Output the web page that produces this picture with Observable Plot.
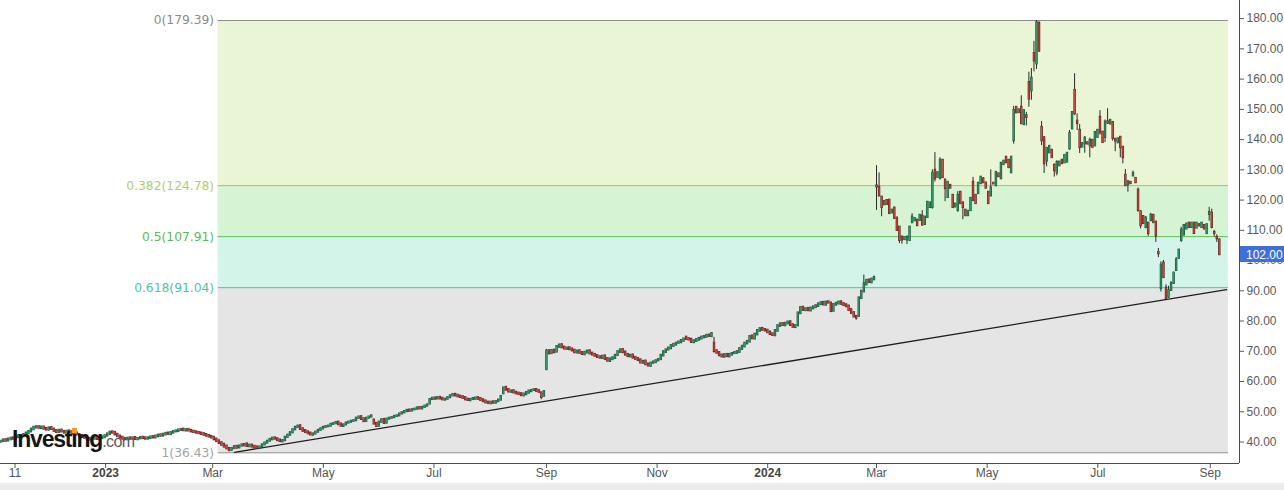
<!DOCTYPE html>
<html><head><meta charset="utf-8">
<script src="https://cdn.jsdelivr.net/npm/d3@7"></script>
<script src="https://cdn.jsdelivr.net/npm/@observablehq/plot@0.6"></script>
<style>
html,body{margin:0;padding:0;background:#fff;}
#wrap{position:relative;width:1284px;height:490px;overflow:hidden;font-family:"Liberation Sans",Arial,sans-serif;}
#nav{position:absolute;left:0;top:483px;width:1284px;height:7px;background:#ebebeb;}
#logo{position:absolute;left:12px;top:426px;line-height:23px;white-space:nowrap;}
#logo .w{font:bold 23px "Liberation Sans",Arial,sans-serif;letter-spacing:-1.2px;color:#151515;}
#logo .c{font:16px "Liberation Sans",Arial,sans-serif;letter-spacing:-0.6px;color:#5a5a5a;}
#logo .i{position:relative;}
#logo .i::after{content:"";position:absolute;left:1px;top:2px;width:5px;height:5px;background:#f39c26;}
</style></head>
<body><div id="wrap"><div id="chart"></div><div id="nav"></div>
<div id="logo"><span class="w">Invest<span class="i">i</span>ng</span><span class="c">.com</span></div></div>
<script>
// ---------- data ----------
const firstSession = "2022-11-04";     // first candle
const sessionSpacingDays = 1.4;        // even spacing of sessions on the time axis
const lastPrice = 102.00;

const opens = [
 // Nov 2022 - Mar 2023
 40.0,40.2,40.7,40.4,40.8, 41.3,41.0,41.5,42.1,41.8,42.4,42.8, 43.4,44.1,44.7,45.0,44.5,
 44.9,44.4,44.0,44.7, 44.2,43.7,43.2,43.9, 43.4,43.0,43.6,43.3,42.5,42.9,
 42.4,42.1,41.7,41.4,41.1,40.7,41.0,41.4,40.8,41.2,41.5, 42.0,42.5,43.3,43.1,42.5,41.9,
 41.5,41.1,40.8,41.3,41.0,41.4,40.8,41.1,41.5,41.3,41.0,
 41.2,41.7,41.4,41.8,42.3,42.0,42.4,42.9,42.5,43.0, 43.4,43.5,43.9,44.2,43.7,44.1,43.8,
 43.5,43.3,43.1,42.9,42.7,42.4,42.1,41.8, 41.5,40.9,40.3,39.7,39.2,38.6,
 // Mar 2023 - Sep 2023
 37.8,37.3,37.9, 38.5,38.1,38.7,39.1, 39.3,38.5,38.9,38.5, 38.3,38.0, 38.4,39.1,39.7,40.3,
 40.8,41.3,41.0,40.6, 40.1,40.5,41.6,42.3, 43.1,44.1,44.9,45.3,44.3, 43.7,43.3,42.9,42.3,
 42.7,43.3,43.9,44.4,44.9,45.1, 45.3,45.9,46.1,46.5,45.9,45.2, 45.7,46.3,46.6,46.9,47.1,47.9,
 48.3,47.6,46.9,47.9,48.3, 47.2,46.1,45.3,46.6,47.4, 46.3,47.6,47.9,48.1, 48.5,48.7,49.3,49.7,
 50.1,50.5,50.3, 50.7,50.9,51.3,51.0,51.5,51.9, 52.6,54.1,54.5,54.3,54.7, 54.4,53.9,54.2,
 54.7,55.3,55.7,55.4,55.1, 54.9,54.6,54.1,53.7,54.1, 54.2,54.6,54.3,53.9,
 53.5,53.1,52.7,53.2,52.9,53.4, 53.9,56.0,58.0,57.3, 56.5,56.9,56.4,56.1, 55.9,55.3,55.7,
 56.2,56.7,57.1,57.3, 56.9,56.2,55.2,
 // Sep 2023 - Mar 2024
 64.0, 70.1,69.3,70.3, 69.8,71.4, 72.1,71.3,70.7,71.1, 70.7,70.3,69.5,70.1, 69.5,68.9,69.5,70.1,
 69.3,68.9,68.5,68.1, 67.7,68.4,67.5, 66.7,67.3,67.7, 68.7,69.7,70.5, 69.7,68.9,68.2,68.7,67.9,
 67.5,67.1,66.1,66.7, 65.7,65.1, 66.1,66.3,66.9, 67.3,68.5,69.7,70.5, 70.9,71.7,72.1,72.7,
 72.9,73.4,74.6,74.1, 73.9,72.9,73.3,73.7, 74.1,74.5,74.7,75.3,74.9,
 72.6, 70.1,69.5,68.7,68.1,68.9, 68.2,68.8,69.3,69.4, 69.7,70.7,71.5,72.5, 73.1,75.0,74.1,
 75.5,76.7,77.5,77.1, 76.9,76.3,75.7, 75.2,76.7,78.3, 79.1,78.5,79.1, 79.7,78.7,77.9,
 78.5,82.5, 84.5,83.5,84.1,83.4,84.1, 84.5,84.9,85.5,86.1,85.3,86.3, 85.9,
 83.3,85.3,85.7,86.3,85.7, 85.3,84.9,83.7,82.7, 81.5, 81.6,87.5, 89.7,92.0,93.5, 92.7,93.7,
 // Mar 2024 - Sep 2024
 124.6,124.0,120.9,118.5,119.8,119.9,115.8,117.3,114.0,111.0,
 107.7,107.0,106.9,106.7,112.6,113.2,113.3,113.3,114.6,112.0,
 114.3,117.6,117.6,129.8,127.6,127.1,133.1,126.5,120.9,124.8,
 121.5,117.8,116.6,122.5,118.9,116.6,114.9,116.6,125.8,121.5,
 122.2,125.5,127.0,125.6,122.5,121.5,125.5,124.8,128.6,127.1,
 131.8,134.1,133.1,129.1,139.7,150.6,149.0,150.6,145.0,147.8,
 158.8,156.2,168.4,165.1,178.3,144.0,140.5,133.0,135.7,136.4,
 131.4,129.1,131.4,133.1,132.4,132.6,137.0,143.6,156.2,146.0,
 143.0,137.6,138.7,138.9,138.0,139.7,138.0,140.8,147.3,142.4,
 140.8,145.8,145.2,145.6,139.9,139.0,140.7,137.4,128.1,125.2,
 125.8,128.1,127.1,123.2,116.0,114.5,111.0,112.3,113.3,114.9,
 112.6,102.6,90.8,99.1,90.8,88.0,90.2,92.5,96.8,100.8,
 106.7,108.5,110.5,112.3,111.0,112.3,110.8,111.8,111.0,111.5,
 109.0,115.4,115.6,109.2,107.6,106.7
];

const closes = [
 // Nov 2022 - Mar 2023
 40.2,40.6,40.3,40.9,41.2, 41.0,41.6,42.0,41.8,42.4,42.9,43.4, 44.2,44.8,45.0,44.6,44.9,
 44.3,44.0,44.6,44.2, 43.6,43.2,43.8,43.4, 43.0,43.5,43.2,42.6,42.9,42.4,
 42.0,41.6,41.3,41.0,40.7,41.0,41.3,40.9,41.2,41.6,42.0, 42.6,43.2,43.0,42.4,41.8,41.4,
 41.0,40.8,41.2,41.0,41.3,40.9,41.1,41.4,41.2,41.0,41.3,
 41.6,41.4,41.9,42.2,42.0,42.5,42.8,42.6,43.1,43.4, 43.6,43.9,44.1,43.8,44.0,43.7,43.4,
 43.2,43.0,42.8,42.6,42.3,42.0,41.7,41.4, 40.8,40.2,39.6,39.0,38.4,37.8,
 // Mar 2023 - Sep 2023
 37.2,37.8,38.4, 38.0,38.6,39.0,38.8, 38.6,38.9,38.4,38.2, 38.0,38.3, 39.0,39.6,40.2,40.8,
 41.2,41.0,40.5,40.2, 40.4,41.5,42.2,43.0, 44.0,44.8,45.2,44.2,43.6, 43.2,42.8,42.4,42.6,
 43.2,43.8,44.3,44.8,45.0,45.2, 45.8,46.0,46.4,45.8,45.3,45.6, 46.2,46.5,46.8,47.0,47.8,48.2,
 47.5,46.8,47.8,48.2,48.6, 46.0,45.2,46.5,47.3,46.2, 47.5,47.8,48.0,48.4, 48.6,49.2,49.6,50.0,
 50.4,50.2,50.6, 50.8,51.2,51.0,51.4,51.8,52.2, 54.0,54.4,54.2,54.6,54.3, 54.0,54.1,54.6,
 55.2,55.6,55.3,55.0,54.8, 54.5,54.0,53.8,54.0,54.3, 54.5,54.2,53.8,53.4,
 53.0,52.8,53.1,52.9,53.3,53.8, 55.0,57.8,57.2,56.6, 56.8,56.3,56.0,55.8, 55.4,55.8,56.3,
 56.8,57.0,57.2,56.8, 56.5,54.8,56.6,
 // Sep 2023 - Mar 2024
 70.0, 69.2,70.2,69.6, 71.5,72.0, 71.2,70.8,71.0,70.6, 70.2,69.6,70.0,69.4, 69.0,69.6,70.0,69.2,
 68.8,68.4,68.0,67.8, 68.3,67.4,66.8, 67.4,67.8,68.6, 69.8,70.4,69.6, 68.8,68.3,68.6,67.8,67.4,
 67.0,66.2,66.6,65.6, 65.2,66.0, 66.4,66.8,67.2, 68.6,69.8,70.4,71.0, 71.8,72.2,72.6,73.0,
 73.5,74.0,74.0,73.8, 73.0,73.4,73.8,74.2, 74.6,74.8,75.2,75.0,75.8,
 70.0, 69.4,68.6,68.2,68.8,68.3, 68.9,69.2,69.5,69.8, 70.8,71.6,72.6,73.2, 74.8,74.2,75.6,
 76.8,77.4,77.0,76.8, 76.2,75.6,75.3, 76.8,78.4,79.0, 78.6,79.2,79.6, 78.6,78.0,78.4,
 82.6,84.4, 83.6,84.0,83.5,84.2,84.6, 85.0,85.6,86.0,85.4,86.2,86.0, 83.2,
 85.4,85.8,86.2,85.6,85.2, 84.8,83.6,82.6,81.4, 81.0, 87.6,89.8, 92.2,93.4,92.8, 93.8,94.4,
 // Mar 2024 - Sep 2024
 124.4,121.5,117.6,119.5,118.6,115.6,116.6,114.0,110.0,106.7,
 106.9,107.5,107.6,111.0,114.3,113.8,111.6,114.9,111.8,114.3,
 119.2,119.0,128.8,127.1,129.0,133.1,127.5,123.9,125.8,124.0,
 117.6,118.6,121.5,118.9,117.6,114.9,116.2,120.5,119.9,118.9,
 125.5,127.5,125.8,124.0,118.9,123.9,125.4,129.1,127.8,132.1,
 132.8,132.4,130.8,134.1,149.6,148.9,149.8,145.3,149.5,147.4,
 153.5,160.2,166.1,178.6,169.4,139.7,132.1,137.0,137.7,134.1,
 129.8,132.4,132.5,132.1,134.7,135.4,142.0,148.9,148.6,145.4,
 137.4,138.6,140.4,138.6,139.7,137.5,142.3,143.0,142.3,139.1,
 145.7,145.5,146.3,140.4,139.6,140.2,137.4,134.1,124.8,126.0,
 125.5,128.7,125.8,116.6,111.6,112.3,114.0,109.0,114.9,112.6,
 108.3,102.3,98.4,94.5,87.5,90.0,92.5,95.8,100.1,103.4,
 110.0,111.5,112.0,111.0,112.3,109.0,112.3,111.5,112.3,110.5,
 111.8,115.8,111.0,109.0,107.3,102.0
];

// sessions with a visible shadow: session number, high, low
const wickIdx  = [213,215,281,337,340,345,346,347,354,355,357,359,363,367,368,370,372,377,379,383,390,
                  399,402,404,405,406,407,408,409,410,411,412,415,416,421,423,424,425,427,429,433,435,436,
                  438,439,441,442,443,444,446,448,449,451,452,453,455,456,457,458,459,460,463,465,476,477,478,479,480];
const wickHigh = [56.2,70.6,74.6,81.6,95.2,131.4,129.0,121.2,111.2,108.0,108.2,115.5,116.5,130.0,135.7,134.0,127.0,122.8,119.5,127.5,130.0,
                  151.0,154.5,149.0,162.3,163.5,172.5,179.39,179.0,146.0,141.0,137.5,132.0,133.0,143.0,161.8,148.5,145.0,141.0,140.5,149.6,146.5,150.2,
                  146.0,140.5,141.0,137.6,130.1,126.5,129.6,124.0,116.5,114.5,112.5,115.6,113.0,104.0,99.6,100.0,92.0,91.5,101.0,111.0,117.6,117.0,110.0,108.5,107.2];
const wickLow  = [54.0,63.6,69.4,80.3,89.6,116.6,121.0,114.5,105.6,105.4,105.3,112.2,111.4,117.0,126.0,126.8,119.5,116.0,113.5,119.5,121.0,
                  138.5,145.0,144.5,150.7,153.0,162.4,163.2,168.8,138.0,128.8,131.0,127.6,128.0,136.5,148.0,143.0,135.4,135.5,134.0,141.5,139.0,145.0,
                  139.5,136.0,134.0,132.0,124.5,122.6,127.6,116.0,110.5,110.5,108.0,112.8,106.0,101.0,89.6,94.0,86.8,87.5,96.5,106.0,113.0,110.5,107.8,106.0,101.8];

// Fibonacci retracement
const fibRatios = [0, 0.382, 0.5, 0.618, 1];
const fibValues = [179.39, 124.78, 107.91, 91.04, 36.43];
const fibLineColors  = ["#8c8c8c", "#9fcb4f", "#5cbc5c", "#48c7a2", "#8c8c8c"];
const fibLabelColors = ["#8a8a8a", "#b3cb6c", "#5cb85c", "#4fc3a6", "#a3a3a3"];
const fibBandFills   = ["#e9f5d4", "#d6f3d4", "#d3f5e9", "#e5e5e5"];
const fibStart = "2023-03-04", fibEnd = "2024-09-11";

// trend line (support)
const trendDates  = ["2023-03-13", "2024-09-10"];
const trendValues = [36.6, 90.4];

// axes
const xTickDates  = ["2022-11-12","2023-01-01","2023-03-01","2023-05-01","2023-07-01","2023-09-01",
                     "2023-11-01","2024-01-01","2024-03-01","2024-05-01","2024-07-01","2024-09-01"];
const xTickLabels = ["11","2023","Mar","May","Jul","Sep","Nov","2024","Mar","May","Jul","Sep"];
const yTicks = [40,50,60,70,80,90,100,110,120,130,140,150,160,170,180];

// ---------- build ----------
const DAY = 864e5;
const t0 = new Date(firstSession + "T00:00:00Z").getTime();
const D = s => new Date(s + "T00:00:00Z");
const wickMap = new Map(wickIdx.map((k, j) => [k, [wickHigh[j], wickLow[j]]]));
const candles = closes.map((c, i) => {
  const o = opens[i];
  const w = wickMap.get(i);
  return {
    date: new Date(t0 + i * sessionSpacingDays * DAY),
    open: o, close: c,
    lo: Math.min(o, c), hi: Math.max(o, c),
    high: w ? Math.max(w[0], o, c) : Math.max(o, c),
    low: w ? Math.min(w[1], o, c) : Math.min(o, c),
    up: c >= o
  };
});

const bands = fibBandFills.map((f, k) => ({y1: fibValues[k], y2: fibValues[k + 1], fill: f}));
const levels = fibRatios.map((r, k) => ({
  ratio: r, value: fibValues[k], line: fibLineColors[k], color: fibLabelColors[k],
  label: `${r}(${fibValues[k].toFixed(2)})`
}));
const trend = trendDates.map((d, k) => ({date: D(d), value: trendValues[k]}));
const xTicks = xTickDates.map((d, k) => ({date: D(d), label: xTickLabels[k], bold: /^\d{4}$/.test(xTickLabels[k])}));

const xDomain = [new Date(t0), new Date(Date.UTC(2024, 8, 17, 3))];
const yDomain = [32.89, 186.0];

const chart = Plot.plot({
  width: 1284, height: 483,
  marginLeft: 0, marginRight: 45, marginTop: 0, marginBottom: 20,
  style: {background: "transparent", fontFamily: "'Liberation Sans', Arial, sans-serif", fontSize: "12px", overflow: "visible"},
  x: {type: "utc", domain: xDomain},
  y: {domain: yDomain},
  marks: [
    Plot.rect(bands, {x1: D(fibStart), x2: D(fibEnd), y1: "y1", y2: "y2", fill: d => d.fill}),
    Plot.ruleY(levels, {y: "value", x1: D(fibStart), x2: D(fibEnd), stroke: d => d.line, strokeWidth: 1}),
    Plot.text(levels, {x: D(fibStart), y: "value", text: "label", fill: d => d.color, textAnchor: "end", dx: -4,
      fontFamily: "'DejaVu Sans', Verdana, sans-serif", fontSize: 12.3}),
    Plot.line(trend, {x: "date", y: "value", stroke: "#1e1e1e", strokeWidth: 1.3}),
    Plot.ruleX(candles, {x: "date", y1: "low", y2: "high", stroke: "#2a2a2a", strokeWidth: 1}),
    Plot.ruleX(candles, {x: "date", y1: "lo", y2: "hi", stroke: d => d.up ? "#1c4f36" : "#5e1b17", strokeWidth: 2.4, strokeLinecap: "square"}),
    Plot.ruleX(candles, {x: "date", y1: "lo", y2: "hi", stroke: d => d.up ? "#2f9a66" : "#cc4a40", strokeWidth: 1.2, strokeLinecap: "square"}),
    Plot.ruleY([yDomain[0]], {stroke: "#4a4a4a", strokeWidth: 1}),
    Plot.ruleX([xDomain[1]], {stroke: "#4a4a4a", strokeWidth: 1}),
    Plot.axisX(xTicks.map(d => d.date), {tickSize: 5, tickFormat: () => "", stroke: "#555", label: null}),
    Plot.text(xTicks.filter(d => !d.bold), {x: "date", frameAnchor: "bottom", dy: 13, text: "label", fill: "#555", fontSize: 12}),
    Plot.text(xTicks.filter(d => d.bold), {x: "date", frameAnchor: "bottom", dy: 13, text: "label", fill: "#444", fontSize: 12, fontWeight: "bold"}),
    Plot.axisY(yTicks, {anchor: "right", tickSize: 4, tickPadding: 3, tickFormat: d3.format(".2f"), color: "#5a5a5a", fontSize: 12, label: null})
  ]
});
document.getElementById("chart").appendChild(chart);

// last-price marker on the right axis
const ys = chart.scale("y");
const py = ys.apply(lastPrice);
const svg = d3.select(chart);
const g = svg.append("g").attr("text-anchor", "start");
g.append("rect").attr("x", 1240).attr("y", py - 8).attr("width", 44).attr("height", 16).attr("fill", "#3e6fda");
g.append("text").attr("x", 1246).attr("y", py + 4.5).attr("fill", "#fff").attr("font-size", 12)
  .attr("text-anchor", "start")
  .attr("font-family", "'Liberation Sans', Arial, sans-serif").text(d3.format(".2f")(lastPrice));
</script>
</body></html>
